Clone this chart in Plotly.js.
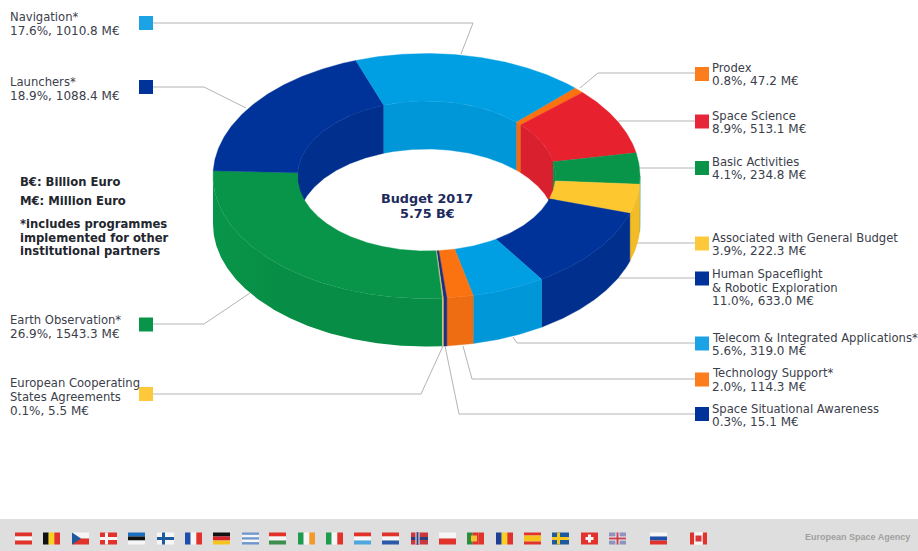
<!DOCTYPE html>
<html>
<head>
<meta charset="utf-8">
<title>ESA Budget 2017</title>
<script src="https://cdn.plot.ly/plotly-3.0.1.min.js"></script>
<style>html,body{margin:0;padding:0;background:#fff}#chart{width:918px;height:551px}</style>
</head>
<body>
<div id="chart"></div>
<script>
// Budget lines in ring order, clockwise, starting from Prodex
const categories = ['Prodex', 'Space Science', 'Basic Activities', 'Associated with General Budget',
  'Human Spaceflight<br>& Robotic Exploration', 'Telecom & Integrated Applications*', 'Technology Support*',
  'Space Situational Awareness', 'European Cooperating<br>States Agreements', 'Earth Observation*',
  'Launchers*', 'Navigation*'];
const millionEuro = [47.2, 513.1, 234.8, 222.3, 633.0, 319.0, 114.3, 15.1, 5.5, 1543.3, 1088.4, 1010.8];
const sharePercent = [0.8, 8.9, 4.1, 3.9, 11.0, 5.6, 2.0, 0.3, 0.1, 26.9, 18.9, 17.6];
const topColors = ['#fb7210', '#e8212f', '#08954a', '#fdc82f', '#003399', '#009fe3', '#fb7210', '#1d2f80', '#d9c77a', '#08954a', '#003399', '#009fe3'];
const wallColors = ['#ee6d12', '#d8202f', '#078d45', '#f3bb26', '#002f8e', '#0097d8', '#ee6d12', '#1d2f80', '#d9c77a', '#078d45', '#002f8e', '#0097d8'];
const squareColors = ['#fb7d1c', '#e8263a', '#08954a', '#fdc83a', '#003399', '#1ba3e6', '#fb7d1c', '#003399', '#fdc83a', '#08954a', '#003399', '#1ba3e6'];
const centerLines = ['Budget 2017', '5.75 B€'];
const footerCredit = 'European Space Agency';

// Ring projection in page pixels
const ring = {cx: 426.5, cy: 176, a: 213.5, b: 122.5, ai: 129, bi: 75, depth: 48, startDeg: 44};

// Legend layout: square centre, label left edge, label block centre, leader polyline
const legendLayout = [
  {sq: [702, 74], tx: 710.5, ty: 74.5, lead: [[580, 88], [598, 73], [695, 73]]},
  {sq: [702, 121.5], tx: 710.5, ty: 122.5, lead: [[618, 121], [695, 121]]},
  {sq: [702, 168], tx: 710.5, ty: 168.5, lead: [[638, 168], [695, 168]]},
  {sq: [702, 243.5], tx: 710.5, ty: 244.5, lead: [[636, 243], [695, 243]]},
  {sq: [702, 278.5], tx: 710.5, ty: 287.5, lead: [[618, 278], [695, 278]]},
  {sq: [702, 343.5], tx: 710.5, ty: 344.5, lead: [[513, 337], [517, 343], [695, 343]]},
  {sq: [702, 379.5], tx: 710.5, ty: 380, lead: [[463, 346], [472, 379], [695, 379]]},
  {sq: [702, 414], tx: 710.5, ty: 415.5, lead: [[445, 346], [459, 414], [695, 414]]},
  {sq: [146, 394], tx: 8.5, ty: 397, lead: [[153, 394], [421, 394], [443, 346]]},
  {sq: [146, 324.5], tx: 8.5, ty: 327, lead: [[153, 324], [204, 324], [250, 293]]},
  {sq: [146, 87], tx: 8.5, ty: 89, lead: [[153, 87], [204, 87], [246, 108]]},
  {sq: [146, 23], tx: 8.5, ty: 24, lead: [[153, 23], [473, 23], [461, 54]]}
];

const total = millionEuro.reduce((s, v) => s + v, 0);

function point(a, b, deg, drop) {
  const t = deg * Math.PI / 180;
  return [ring.cx + a * Math.sin(t), ring.cy - b * Math.cos(t) + drop];
}
function arc(a, b, from, to, drop) {
  const n = Math.max(2, Math.ceil(Math.abs(to - from) * 2));
  const pts = [];
  for (let i = 0; i <= n; i++) pts.push(point(a, b, from + (to - from) * i / n, drop));
  return pts;
}
function band(outerPts, innerPts) {
  const all = outerPts.concat(innerPts.slice().reverse());
  all.push(outerPts[0]);
  return {x: all.map(p => p[0]), y: all.map(p => p[1])};
}
function polygon(shape, color, name) {
  return {type: 'scatter', mode: 'lines', x: shape.x, y: shape.y, fill: 'toself', fillcolor: color,
    line: {color: color, width: 0.4}, hoverinfo: name ? 'text' : 'skip', text: name || '', showlegend: false};
}
function clip(from, to, lo, hi) {
  const a = Math.max(from, lo), b = Math.min(to, hi);
  return a < b ? [a, b] : null;
}

// Slice angles come straight from the budget amounts
const spans = [];
let running = ring.startDeg;
millionEuro.forEach(v => {
  const sweep = v / total * 360;
  spans.push([running, running + sweep]);
  running += sweep;
});

// The near wall's shading melts into the top face towards the far left of the ring
const FADE_START_X = ring.cx - ring.a, FADE_STOP_X = ring.cx - ring.a + 75;
function nearWall(range, i) {
  const shape = band(arc(ring.a, ring.b, range[0], range[1], 0), arc(ring.a, ring.b, range[0], range[1], ring.depth));
  const trace = polygon(shape, wallColors[i]);
  if (range[1] >= 269) {
    trace.line = {width: 0};
    trace.fillgradient = {type: 'horizontal', start: FADE_START_X, stop: FADE_STOP_X,
      colorscale: [[0, topColors[i]], [1, wallColors[i]]]};
  }
  return trace;
}

const innerWalls = [], outerWalls = [], topFaces = [];
spans.forEach((sp, i) => {
  [[-90, 90], [270, 450]].forEach(win => {
    const c = clip(sp[0], sp[1], win[0], win[1]);
    if (c) innerWalls.push(polygon(band(arc(ring.ai, ring.bi, c[0], c[1], 0), arc(ring.ai, ring.bi, c[0], c[1], ring.depth)), wallColors[i]));
  });
  const near = clip(sp[0], sp[1], 90, 270);
  if (near) outerWalls.push(nearWall(near, i));
  topFaces.push(polygon(band(arc(ring.a, ring.b, sp[0], sp[1], 0), arc(ring.ai, ring.bi, sp[0], sp[1], 0)),
    topColors[i], categories[i].replace('<br>', ' ') + ': ' + millionEuro[i].toFixed(1) + ' M€'));
});

// Leader lines sit under the ring, squares on top of their line ends
const leaders = legendLayout.map(l => ({type: 'scatter', mode: 'lines', x: l.lead.map(p => p[0]), y: l.lead.map(p => p[1]),
  line: {color: '#b4b4b4', width: 1}, hoverinfo: 'skip', showlegend: false}));
const squares = {type: 'scatter', mode: 'markers', x: legendLayout.map(l => l.sq[0]), y: legendLayout.map(l => l.sq[1]),
  marker: {symbol: 'square', size: 14, color: squareColors}, hoverinfo: 'skip', showlegend: false};

const FAMILY = 'DejaVu Sans, sans-serif';
const nameFont = {family: FAMILY, size: 11.6, color: '#3b404b'};
const amountFont = {family: FAMILY, size: 12, color: '#3b404b'};
const boldFont = {family: FAMILY, size: 11.6, color: '#23262e'};
const centerFont = {family: FAMILY, size: 12.8, color: '#1d2a5c'};
function note(x, y, text, font, anchor) {
  return {xref: 'x', yref: 'y', x: x, y: y, text: text, font: font, showarrow: false,
    xanchor: anchor || 'left', yanchor: 'middle', align: anchor || 'left', borderpad: 0};
}
const LINE = 13.7;
const annotations = [];
legendLayout.forEach((l, i) => {
  const names = categories[i].split('<br>');
  const count = names.length + 1;
  names.forEach((n, k) => annotations.push(note(l.tx, l.ty + (k - (count - 1) / 2) * LINE, n, nameFont)));
  annotations.push(note(l.tx, l.ty + (count - 1) / 2 * LINE, sharePercent[i].toFixed(1) + '%, ' + millionEuro[i].toFixed(1) + ' M€', amountFont));
});
[['B€: Billion Euro', 181.5], ['M€: Million Euro', 201], ['*includes programmes', 223.5],
 ['implemented for other', 237.5], ['institutional partners', 251]].forEach(n =>
  annotations.push(note(19, n[1], '<b>' + n[0] + '</b>', boldFont)));
annotations.push(note(427, 198.5, '<b>' + centerLines[0] + '</b>', centerFont, 'center'));
annotations.push(note(427, 213.5, '<b>' + centerLines[1] + '</b>', centerFont, 'center'));
annotations.push(note(911, 537, '<b>' + footerCredit + '</b>', {family: 'Liberation Sans, sans-serif', size: 9, color: '#a0a0a0'}, 'right'));

// Footer band and member-state flags
const shapes = [{type: 'rect', xref: 'x', yref: 'y', x0: 0, x1: 918, y0: 519, y1: 551, fillcolor: '#dedede', line: {width: 0}, layer: 'below'}];
const FW = 17, FH = 12, FY = 532.5;
function box(x0, y0, x1, y1, color) {
  shapes.push({type: 'rect', xref: 'x', yref: 'y', x0: x0, x1: x1, y0: y0, y1: y1, fillcolor: color, line: {width: 0}, layer: 'above'});
}
function stripesH(x, cols) { cols.forEach((c, i) => box(x, FY + FH * i / cols.length, x + FW, FY + FH * (i + 1) / cols.length, c)); }
function stripesV(x, cols) { cols.forEach((c, i) => box(x + FW * i / cols.length, FY, x + FW * (i + 1) / cols.length, FY + FH, c)); }
function cross(x, bg, fg) {
  box(x, FY, x + FW, FY + FH, bg);
  box(x + 5, FY, x + 8, FY + FH, fg); box(x, FY + 4.5, x + FW, FY + 7.5, fg);
}
const red = '#e1322b', white = '#f6f6f6';
stripesH(15, [red, white, red]);
stripesV(43, ['#111', '#f7d11e', red]);
stripesH(72, [white, red]); shapes.push({type: 'path', xref: 'x', yref: 'y', path: 'M72,532.5 L81,538.5 L72,544.5 Z', fillcolor: '#1f5a9e', line: {width: 0}, layer: 'above'});
cross(100, red, white);
stripesH(128, ['#1d6fc0', '#111', white]);
cross(157, white, '#1f5a9e');
stripesV(185, ['#1f4fa8', white, red]);
stripesH(213, ['#111', '#d8232a', '#f4c51e']);
stripesH(242, ['#6f97cf', white, '#6f97cf', white, '#6f97cf']);
stripesH(269, [red, white, '#3e8f4f']);
stripesV(298, ['#1f9b50', white, '#f4992b']);
stripesV(326, ['#1f9b50', white, red]);
stripesH(354, [red, white, '#4da6e0']);
stripesH(382, [red, white, '#2a5aa8']);
cross(411, '#c9383e', '#2c3f80'); box(415.5, FY, 416.5, FY + FH, white); box(418.5, FY, 419.5, FY + FH, white);
stripesH(439, [white, red]);
stripesV(467, ['#2c8c3c', red, red]); box(471, 535.5, 477, 541.5, '#f2c230');
stripesV(496, ['#1f3f95', '#f7d11e', red]);
box(524, FY, 524 + FW, FY + 3, red); box(524, FY + 3, 524 + FW, FY + 9, '#f6c21c'); box(524, FY + 9, 524 + FW, FY + FH, red);
cross(552, '#1f5a9e', '#f4c81e');
box(581, FY, 581 + FW, FY + FH, red); box(588, 534.5, 591, 542.5, white); box(585.5, 537, 593.5, 540, white);
box(609, FY, 609 + FW, FY + FH, '#8d94bd'); box(609, 536.5, 626, 540.5, white); box(615.5, FY, 619.5, FY + FH, white); box(609, 537.5, 626, 539.5, '#c9424c'); box(616.5, FY, 618.5, FY + FH, '#c9424c');
stripesH(650, [white, '#1f4fa8', red]);
stripesV(690, [red, white, white, red]); box(695.5, 535.5, 701.5, 541.5, '#d8343a');
box(694.25, FY, 702.75, 535, white); box(694.25, 542, 702.75, FY + FH, white);

const traces = leaders.concat(innerWalls, outerWalls, topFaces, [squares]);
const layout = {
  width: 918, height: 551, autosize: false,
  margin: {l: 0, r: 0, t: 0, b: 0, pad: 0},
  paper_bgcolor: '#ffffff', plot_bgcolor: 'rgba(0,0,0,0)',
  showlegend: false, hovermode: 'closest',
  xaxis: {range: [0, 918], visible: false, fixedrange: true},
  yaxis: {range: [551, 0], visible: false, fixedrange: true},
  shapes: shapes, annotations: annotations
};
Plotly.newPlot('chart', traces, layout, {displayModeBar: false});
</script>
</body>
</html>
